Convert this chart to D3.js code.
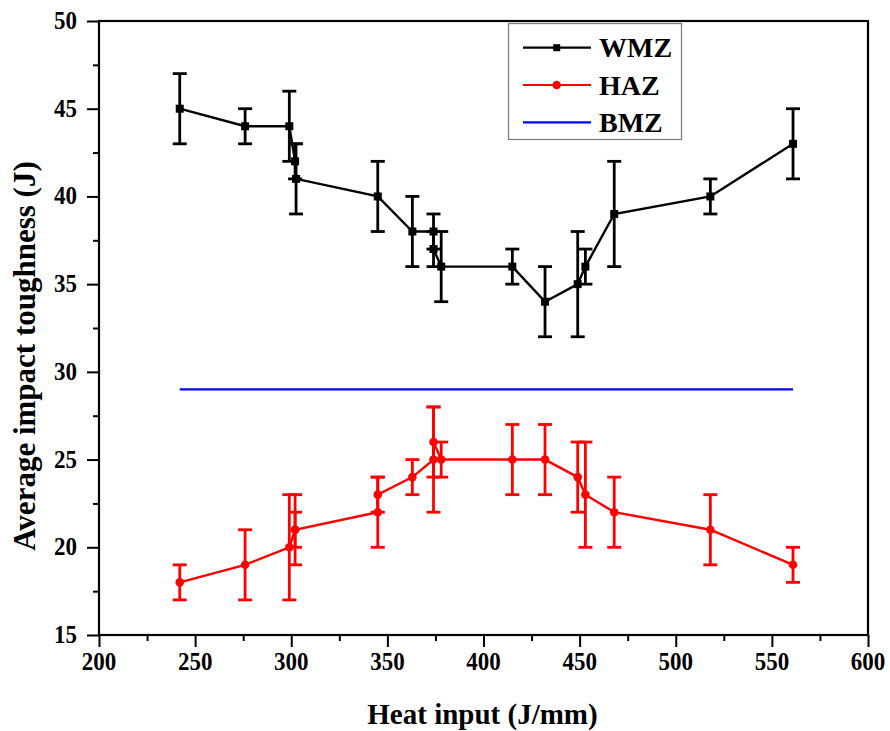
<!DOCTYPE html>
<html>
<head>
<meta charset="utf-8">
<script src="https://cdn.jsdelivr.net/npm/d3@7/dist/d3.min.js"></script>
<style>
  html, body { margin: 0; padding: 0; background: #ffffff; }
  svg { display: block; }
  text { font-family: "Liberation Serif", "Times New Roman", serif; font-weight: bold; fill: #000; }
</style>
</head>
<body>
<svg id="chart" width="890" height="731"></svg>
<script>
// ---- data ----
const wmzX   = [242, 276, 299, 302, 302.5, 345, 363, 374, 374, 378, 415, 432, 449, 453, 468, 518, 561];
const wmzY   = [45, 44, 44, 42, 41, 40, 38, 38, 37, 36, 36, 34, 35, 36, 39, 40, 43];
const wmzErr = [2, 1, 2, 1, 2, 2, 2, 1, 1, 2, 1, 2, 3, 1, 3, 1, 2];

const hazX   = [242, 276, 299, 302, 302, 345, 345, 363, 374, 374, 378, 415, 432, 449, 453, 468, 518, 561];
const hazY   = [18, 19, 20, 21, 21, 22, 23, 24, 25, 26, 25, 25, 25, 24, 23, 22, 21, 19];
const hazErr = [1, 2, 3, 1, 2, 2, 1, 1, 3, 2, 1, 2, 2, 2, 3, 2, 2, 1];

const bmzX = [242, 561];
const bmzY = [29, 29];

const xMajorTicks = [200, 250, 300, 350, 400, 450, 500, 550, 600];
const xMinorTicks = [225, 275, 325, 375, 425, 475, 525, 575];
const yMajorTicks = [15, 20, 25, 30, 35, 40, 45, 50];
const yMinorTicks = [17.5, 22.5, 27.5, 32.5, 37.5, 42.5, 47.5];

const seriesNames = ["WMZ", "HAZ", "BMZ"];
const seriesColors = ["#000000", "#ff0000", "#0000ff"];

// ---- layout ----
const svg = d3.select("#chart");
const L = 99, R = 868, T = 21, B = 635;
const x = d3.scaleLinear().domain([200, 600]).range([L, R]);
const y = d3.scaleLinear().domain([15, 50]).range([B, T]);

// ---- axes ticks ----
function styleAxis(g) {
  g.select(".domain").remove();
  g.selectAll(".tick line").attr("stroke", "#000").attr("stroke-width", 2);
  g.selectAll(".tick text").remove();
}
svg.append("g").attr("transform", `translate(0,${B})`)
  .call(d3.axisBottom(x).tickValues(xMajorTicks).tickSize(12).tickFormat(""))
  .call(styleAxis);
svg.append("g").attr("transform", `translate(0,${B})`)
  .call(d3.axisBottom(x).tickValues(xMinorTicks).tickSize(6).tickFormat(""))
  .call(styleAxis);
svg.append("g").attr("transform", `translate(${L},0)`)
  .call(d3.axisLeft(y).tickValues(yMajorTicks).tickSize(12).tickFormat(""))
  .call(styleAxis);
svg.append("g").attr("transform", `translate(${L},0)`)
  .call(d3.axisLeft(y).tickValues(yMinorTicks).tickSize(6).tickFormat(""))
  .call(styleAxis);

// frame
svg.append("rect")
  .attr("x", L).attr("y", T).attr("width", R - L).attr("height", B - T)
  .attr("fill", "none").attr("stroke", "#000").attr("stroke-width", 2.2);

// tick labels
svg.append("g").selectAll("text").data(xMajorTicks).join("text")
  .attr("transform", d => `translate(${x(d)},670) scale(1,1.12)`)
  .attr("text-anchor", "middle")
  .attr("font-size", 23)
  .text(d => d);
svg.append("g").selectAll("text").data(yMajorTicks).join("text")
  .attr("transform", d => `translate(77,${y(d) + 8}) scale(1,1.12)`)
  .attr("text-anchor", "end")
  .attr("font-size", 23)
  .text(d => d);

// axis titles
svg.append("text")
  .attr("x", (L + R) / 2 - 1).attr("y", 724)
  .attr("text-anchor", "middle").attr("font-size", 29)
  .text("Heat input (J/mm)");
svg.append("text")
  .attr("transform", "translate(35,356) rotate(-90)")
  .attr("text-anchor", "middle").attr("font-size", 31)
  .text("Average impact toughness (J)");

// ---- BMZ line ----
const line = d3.line().x(d => x(d[0])).y(d => y(d[1]));
svg.append("path")
  .datum(bmzX.map((v, i) => [v, bmzY[i]]))
  .attr("d", line).attr("fill", "none")
  .attr("stroke", seriesColors[2]).attr("stroke-width", 2.2);

// ---- series with error bars ----
function drawSeries(xs, ys, errs, color, marker) {
  const data = xs.map((v, i) => ({ x: v, y: ys[i], e: errs[i] }));
  const g = svg.append("g");
  const cap = 7;
  const eb = g.append("g").attr("stroke", color).attr("stroke-width", 2.8);
  data.forEach(d => {
    eb.append("line").attr("x1", x(d.x)).attr("x2", x(d.x))
      .attr("y1", y(d.y - d.e)).attr("y2", y(d.y + d.e));
    eb.append("line").attr("x1", x(d.x) - cap).attr("x2", x(d.x) + cap)
      .attr("y1", y(d.y + d.e)).attr("y2", y(d.y + d.e));
    eb.append("line").attr("x1", x(d.x) - cap).attr("x2", x(d.x) + cap)
      .attr("y1", y(d.y - d.e)).attr("y2", y(d.y - d.e));
  });
  g.append("path").datum(data)
    .attr("d", d3.line().x(d => x(d.x)).y(d => y(d.y)))
    .attr("fill", "none").attr("stroke", color).attr("stroke-width", 2.4);
  if (marker === "square") {
    g.selectAll("rect.m").data(data).join("rect").attr("class", "m")
      .attr("x", d => x(d.x) - 4).attr("y", d => y(d.y) - 4)
      .attr("width", 8).attr("height", 8).attr("fill", color);
  } else {
    g.selectAll("circle.m").data(data).join("circle").attr("class", "m")
      .attr("cx", d => x(d.x)).attr("cy", d => y(d.y))
      .attr("r", 4.3).attr("fill", color);
  }
}
drawSeries(wmzX, wmzY, wmzErr, seriesColors[0], "square");
drawSeries(hazX, hazY, hazErr, seriesColors[1], "circle");

// ---- legend ----
const lg = svg.append("g");
lg.append("rect").attr("x", 508.5).attr("y", 23.5).attr("width", 173).attr("height", 116)
  .attr("fill", "#fff").attr("stroke", "#808080").attr("stroke-width", 1.3);
const legY = [47.7, 85, 122.3];
seriesNames.forEach((name, i) => {
  lg.append("line").attr("x1", 523).attr("x2", 591)
    .attr("y1", legY[i]).attr("y2", legY[i])
    .attr("stroke", seriesColors[i]).attr("stroke-width", 2.2);
  if (i === 0) {
    lg.append("rect").attr("x", 556.7 - 3.5).attr("y", legY[i] - 3.5)
      .attr("width", 7).attr("height", 7).attr("fill", seriesColors[i]);
  } else if (i === 1) {
    lg.append("circle").attr("cx", 556.7).attr("cy", legY[i]).attr("r", 4.3)
      .attr("fill", seriesColors[i]);
  }
  lg.append("text").attr("x", 599).attr("y", legY[i] + 9.7)
    .attr("font-size", 28).text(name);
});
</script>
</body>
</html>
